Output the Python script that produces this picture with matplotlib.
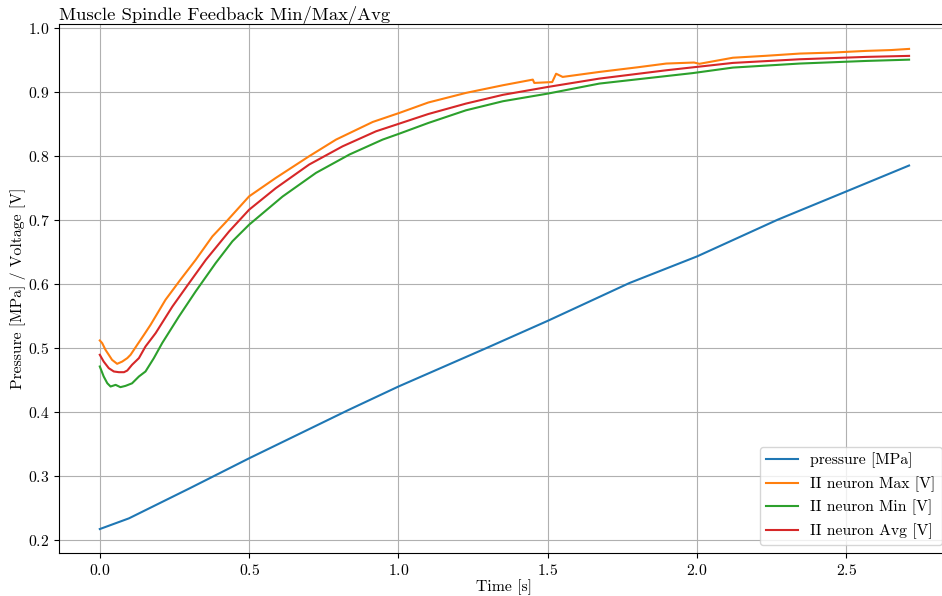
import matplotlib
matplotlib.use("Agg")
import matplotlib.pyplot as plt

# Werte
tPressure = [0.0, 0.0975, 0.301, 0.5, 0.833, 1.0, 1.294, 1.5, 1.773, 2.0, 2.27, 2.5, 2.71]
pressure = [0.2172, 0.2339, 0.2809, 0.3278, 0.4034, 0.44, 0.5, 0.5427, 0.6017, 0.6434, 0.7008, 0.745, 0.7855]

tMax = [0.0, 0.008, 0.019, 0.030, 0.041, 0.058, 0.075, 0.092, 0.103, 0.125, 0.148, 0.17, 0.22,
        0.27, 0.321, 0.377, 0.422, 0.5, 0.589, 0.701, 0.791, 0.914, 1.003, 1.1, 1.226, 1.35,
        1.45, 1.455, 1.515, 1.528, 1.55, 1.673, 1.8, 1.897, 1.99, 2.008, 2.12, 2.23, 2.344,
        2.45, 2.567, 2.65, 2.71]
neuronMax = [0.512, 0.5078, 0.4974, 0.4896, 0.4817, 0.4755, 0.479, 0.4844, 0.4896, 0.505,
             0.5209, 0.5365, 0.5756, 0.607, 0.638, 0.6747, 0.697, 0.7373, 0.766, 0.8, 0.826,
             0.8536, 0.8677, 0.884, 0.899, 0.911, 0.9198, 0.9146, 0.916, 0.929, 0.924, 0.9318,
             0.939, 0.9449, 0.9465, 0.9445, 0.954, 0.957, 0.9605, 0.962, 0.9647, 0.966, 0.9678]

tMin = [0.0, 0.013, 0.025, 0.036, 0.053, 0.069, 0.086, 0.108, 0.131, 0.153, 0.181, 0.209, 0.265,
        0.321, 0.388, 0.444, 0.5, 0.612, 0.724, 0.836, 0.947, 1.003, 1.1, 1.226, 1.35, 1.5,
        1.673, 1.986, 2.12, 2.344, 2.567, 2.71]
neuronMin = [0.4713, 0.4557, 0.4452, 0.44, 0.4426, 0.439, 0.441, 0.445, 0.4557, 0.4635, 0.4844,
             0.508, 0.5495, 0.5887, 0.633, 0.667, 0.693, 0.737, 0.774, 0.8027, 0.826, 0.8353,
             0.852, 0.8718, 0.886, 0.8979, 0.9136, 0.930, 0.9386, 0.9449, 0.949, 0.951]

tAvg = [0.0, 0.013, 0.030, 0.047, 0.064, 0.081, 0.092, 0.108, 0.131, 0.153, 0.187, 0.243, 0.299,
        0.355, 0.433, 0.5, 0.589, 0.701, 0.813, 0.925, 1.003, 1.1, 1.226, 1.35, 1.5, 1.673,
        1.897, 2.12, 2.344, 2.567, 2.71]
neuronAvg = [0.4896, 0.479, 0.4687, 0.4635, 0.4624, 0.4624, 0.465, 0.474, 0.4844, 0.5026,
             0.5235, 0.565, 0.6017, 0.638, 0.6825, 0.7164, 0.75, 0.787, 0.8155, 0.839, 0.851,
             0.866, 0.8823, 0.896, 0.9083, 0.9214, 0.9344, 0.9459, 0.9516, 0.9553, 0.9569]

plt.rcParams['font.family'] = 'cmr10'
plt.rcParams['mathtext.fontset'] = 'cm'
plt.rcParams['axes.formatter.use_mathtext'] = True

fig = plt.figure(figsize=(9.42, 5.96), dpi=100)
# Achse ragt rechts ueber den Bildrand hinaus (wie im Original)
ax = fig.add_axes([0.063, 0.0721, 0.945, 0.8876])

ax.plot(tPressure, pressure, color='tab:blue', label='pressure [MPa]')
ax.plot(tMax, neuronMax, color='tab:orange', label='II neuron Max [V]')
ax.plot(tMin, neuronMin, color='tab:green', label='II neuron Min [V]')
ax.plot(tAvg, neuronAvg, color='tab:red', label='II neuron Avg [V]')

ax.set_xlim(-0.1355, 2.8455)
ax.set_ylim(0.1797, 1.0067)
ax.set_xticks([0.0, 0.5, 1.0, 1.5, 2.0, 2.5])
ax.set_yticks([0.2, 0.3, 0.4, 0.5, 0.6, 0.7, 0.8, 0.9, 1.0])
ax.tick_params(labelsize=11.3)

ax.set_title('Muscle Spindle Feedback Min/Max/Avg', loc='left', fontsize=13.4, pad=2)
ax.set_xlabel('Time [s]', fontsize=11.3, labelpad=1)
ax.set_ylabel('Pressure [MPa] / Voltage [V]', fontsize=11.3, labelpad=1)

ax.grid()
ax.legend(loc='lower right', fontsize=11.3)

fig.savefig('out.png', dpi=100)
